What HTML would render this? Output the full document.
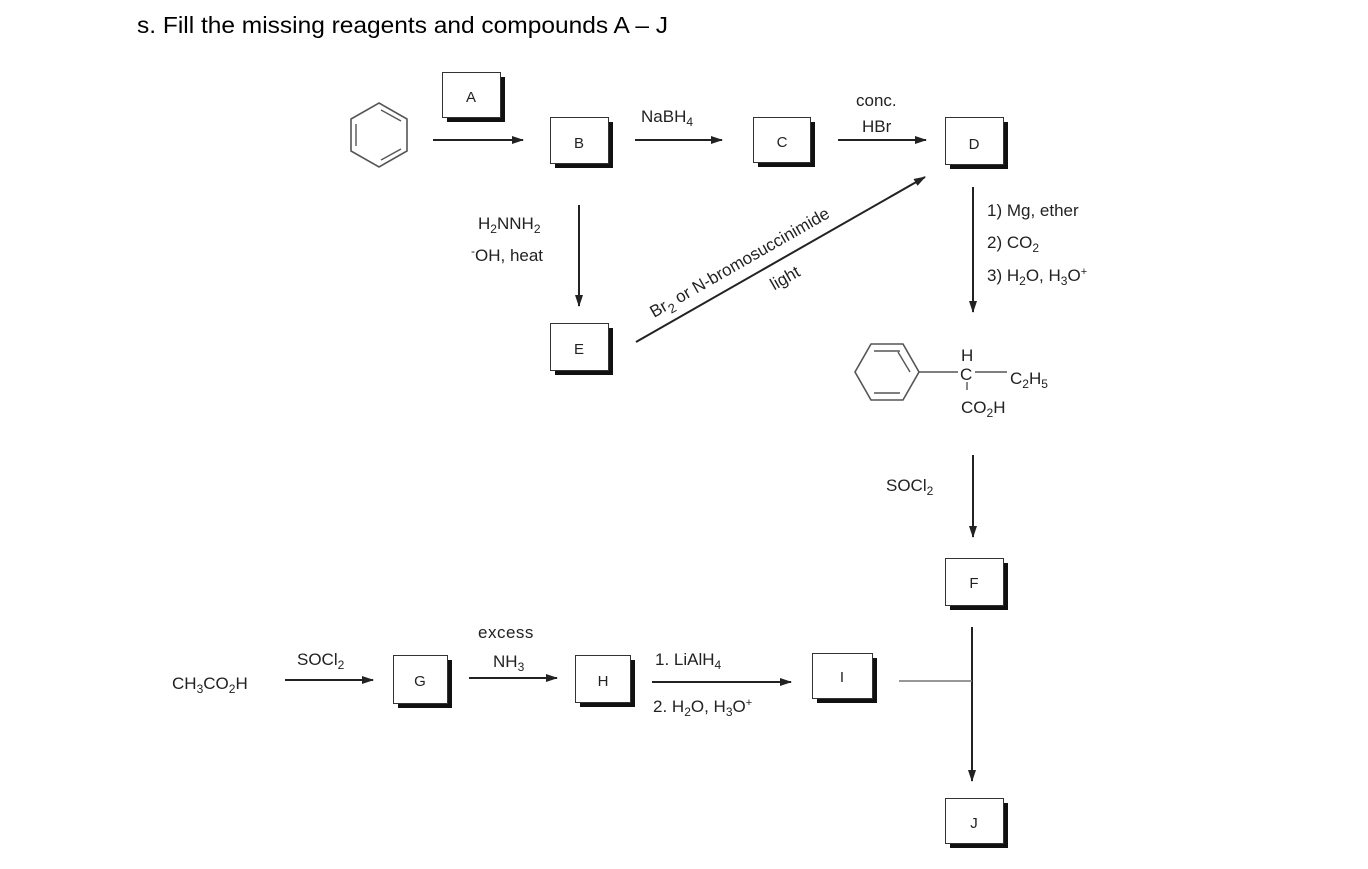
<!DOCTYPE html>
<html><head><meta charset="utf-8"><style>
html,body{margin:0;padding:0;background:#fff;}
svg{display:block;}
text{font-family:"Liberation Sans",sans-serif;fill:#222;}
.l{font-size:17px;}
.b{font-size:15px;}
</style></head><body>
<svg width="1368" height="869" viewBox="0 0 1368 869" xmlns="http://www.w3.org/2000/svg">
<defs>
<marker id="ah" markerWidth="12" markerHeight="8" refX="11" refY="4" orient="auto" markerUnits="userSpaceOnUse">
<path d="M0,0 L12,4 L0,8 z" fill="#222"/></marker>
</defs>
<text x="137" y="33" font-size="23" textLength="531" lengthAdjust="spacingAndGlyphs" style="fill:#000">s. Fill the missing reagents and compounds A – J</text>

<g stroke="#222" stroke-width="2" fill="none">
<!-- benzene 1 -->
<polygon points="379,103 407,119 407,151 379,167 351,151 351,119" stroke="#555" stroke-width="1.6"/>
<line x1="356" y1="124" x2="356" y2="146" stroke="#555" stroke-width="1.4"/>
<line x1="381" y1="110" x2="401" y2="121" stroke="#555" stroke-width="1.4"/>
<line x1="381" y1="160" x2="401" y2="149" stroke="#555" stroke-width="1.4"/>
<!-- benzene 2 -->
<polygon points="871,344 903,344 919,372 903,400 871,400 855,372" stroke="#555" stroke-width="1.6"/>
<line x1="874" y1="351" x2="900" y2="351" stroke="#555" stroke-width="1.4"/>
<line x1="874" y1="393" x2="900" y2="393" stroke="#555" stroke-width="1.4"/>
<line x1="910" y1="372" x2="898" y2="352" stroke="#555" stroke-width="1.4"/>
<line x1="919" y1="372" x2="958" y2="372" stroke="#555" stroke-width="1.4"/>
<line x1="975" y1="372" x2="1007" y2="372" stroke="#555" stroke-width="1.4"/>
<line x1="967" y1="382" x2="967" y2="390" stroke="#555" stroke-width="1.4"/>

<!-- arrows -->
<line x1="433" y1="140" x2="523" y2="140" marker-end="url(#ah)"/>
<line x1="635" y1="140" x2="722" y2="140" marker-end="url(#ah)"/>
<line x1="838" y1="140" x2="926" y2="140" marker-end="url(#ah)"/>
<line x1="579" y1="205" x2="579" y2="306" marker-end="url(#ah)"/>
<line x1="636" y1="342" x2="925" y2="177" marker-end="url(#ah)"/>
<line x1="973" y1="187" x2="973" y2="312" marker-end="url(#ah)"/>
<line x1="973" y1="455" x2="973" y2="537" marker-end="url(#ah)"/>
<line x1="972" y1="627" x2="972" y2="781" marker-end="url(#ah)"/>
<line x1="899" y1="681" x2="972" y2="681" stroke="#777" stroke-width="1.4"/>
<line x1="285" y1="680" x2="373" y2="680" marker-end="url(#ah)"/>
<line x1="469" y1="678" x2="557" y2="678" marker-end="url(#ah)"/>
<line x1="652" y1="682" x2="791" y2="682" marker-end="url(#ah)"/>
</g>

<!-- boxes -->
<g>
<g transform="translate(442,72)"><rect x="5" y="5" width="58" height="45" fill="#111"/><rect x="0.5" y="0.5" width="58" height="45" fill="#fff" stroke="#333"/><text x="29" y="30" text-anchor="middle" class="b">A</text></g>
<g transform="translate(550,117)"><rect x="5" y="5" width="58" height="46" fill="#111"/><rect x="0.5" y="0.5" width="58" height="46" fill="#fff" stroke="#333"/><text x="29" y="31" text-anchor="middle" class="b">B</text></g>
<g transform="translate(753,117)"><rect x="5" y="5" width="57" height="45" fill="#111"/><rect x="0.5" y="0.5" width="57" height="45" fill="#fff" stroke="#333"/><text x="29" y="30" text-anchor="middle" class="b">C</text></g>
<g transform="translate(945,117)"><rect x="5" y="5" width="58" height="47" fill="#111"/><rect x="0.5" y="0.5" width="58" height="47" fill="#fff" stroke="#333"/><text x="29" y="32" text-anchor="middle" class="b">D</text></g>
<g transform="translate(550,323)"><rect x="5" y="5" width="58" height="47" fill="#111"/><rect x="0.5" y="0.5" width="58" height="47" fill="#fff" stroke="#333"/><text x="29" y="31" text-anchor="middle" class="b">E</text></g>
<g transform="translate(945,558)"><rect x="5" y="5" width="58" height="47" fill="#111"/><rect x="0.5" y="0.5" width="58" height="47" fill="#fff" stroke="#333"/><text x="29" y="30" text-anchor="middle" class="b">F</text></g>
<g transform="translate(945,798)"><rect x="5" y="5" width="58" height="45" fill="#111"/><rect x="0.5" y="0.5" width="58" height="45" fill="#fff" stroke="#333"/><text x="29" y="30" text-anchor="middle" class="b">J</text></g>
<g transform="translate(393,655)"><rect x="5" y="5" width="54" height="48" fill="#111"/><rect x="0.5" y="0.5" width="54" height="48" fill="#fff" stroke="#333"/><text x="27" y="31" text-anchor="middle" class="b">G</text></g>
<g transform="translate(575,655)"><rect x="5" y="5" width="55" height="47" fill="#111"/><rect x="0.5" y="0.5" width="55" height="47" fill="#fff" stroke="#333"/><text x="28" y="31" text-anchor="middle" class="b">H</text></g>
<g transform="translate(812,653)"><rect x="5" y="5" width="60" height="45" fill="#111"/><rect x="0.5" y="0.5" width="60" height="45" fill="#fff" stroke="#333"/><text x="30" y="29" text-anchor="middle" class="b">I</text></g>
</g>

<!-- labels -->
<text x="641" y="122" class="l">NaBH<tspan font-size="12" dy="4">4</tspan></text>
<text x="856" y="106" class="l">conc.</text>
<text x="862" y="132" class="l">HBr</text>
<text x="478" y="229" class="l">H<tspan font-size="12" dy="4">2</tspan><tspan dy="-4">NNH</tspan><tspan font-size="12" dy="4">2</tspan></text>
<text x="471" y="261" class="l"><tspan font-size="12" dy="-6">-</tspan><tspan dy="6">OH, heat</tspan></text>
<g transform="translate(654,318) rotate(-29.8)">
<text x="0" y="0" class="l">Br<tspan font-size="13" dy="5">2</tspan><tspan dy="-5"> or N-bromosuccinimide</tspan></text>
<text x="118" y="36" class="l">light</text>
</g>
<text x="987" y="216" class="l">1) Mg, ether</text>
<text x="987" y="248" class="l">2) CO<tspan font-size="12" dy="4">2</tspan></text>
<text x="987" y="281" class="l">3) H<tspan font-size="12" dy="4">2</tspan><tspan dy="-4">O, H</tspan><tspan font-size="12" dy="4">3</tspan><tspan dy="-4">O</tspan><tspan font-size="11" dy="-6">+</tspan></text>
<text x="961" y="361" class="l">H</text>
<text x="960" y="380" class="l">C</text>
<text x="1010" y="384" class="l">C<tspan font-size="12" dy="4">2</tspan><tspan dy="-4">H</tspan><tspan font-size="12" dy="4">5</tspan></text>
<text x="961" y="413" class="l">CO<tspan font-size="12" dy="4">2</tspan><tspan dy="-4">H</tspan></text>
<text x="886" y="491" class="l">SOCl<tspan font-size="12" dy="4">2</tspan></text>
<text x="172" y="689" class="l">CH<tspan font-size="12" dy="4">3</tspan><tspan dy="-4">CO</tspan><tspan font-size="12" dy="4">2</tspan><tspan dy="-4">H</tspan></text>
<text x="297" y="665" class="l">SOCl<tspan font-size="12" dy="4">2</tspan></text>
<text x="478" y="638" class="l" letter-spacing="0.5">excess</text>
<text x="493" y="667" class="l">NH<tspan font-size="12" dy="4">3</tspan></text>
<text x="655" y="665" class="l">1.  LiAlH<tspan font-size="12" dy="4">4</tspan></text>
<text x="653" y="712" class="l">2.  H<tspan font-size="12" dy="4">2</tspan><tspan dy="-4">O, H</tspan><tspan font-size="12" dy="4">3</tspan><tspan dy="-4">O</tspan><tspan font-size="11" dy="-6">+</tspan></text>
</svg>
</body></html>
